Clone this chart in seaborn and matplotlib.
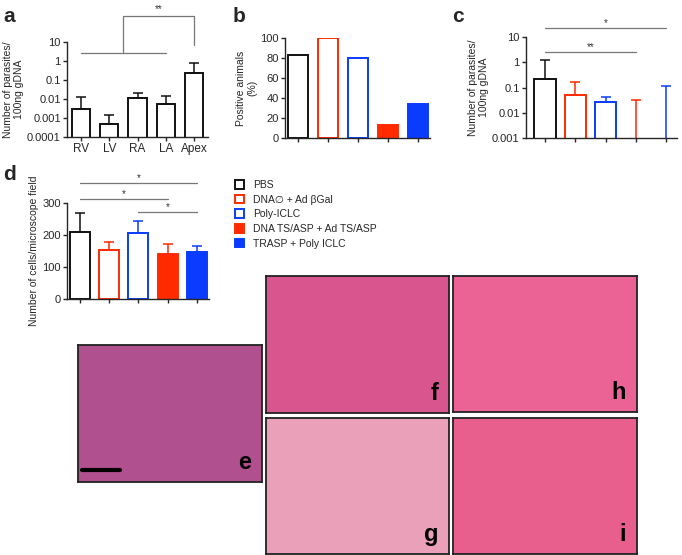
import numpy as np
import pandas as pd
import matplotlib
matplotlib.use("Agg")
import matplotlib.pyplot as plt
import seaborn as sns
from matplotlib.patches import Patch
from matplotlib.ticker import FixedLocator, FuncFormatter, NullLocator

# ---- data ----
sites = ["RV", "LV", "RA", "LA", "Apex"]
sites_mean = [0.003, 0.0005, 0.011, 0.0055, 0.22]
sites_upper = [0.012, 0.0015, 0.02, 0.015, 0.75]

groups = ["PBS", "DNA\u2205 + Ad \u03b2Gal", "Poly-ICLC", "DNA TS/ASP + Ad TS/ASP", "TRASP + Poly ICLC"]
positive_pct = [83, 100, 80, 13, 34]

parasites_mean = [0.22, 0.05, 0.027, 0.0006, 0.0006]
parasites_upper = [1.2, 0.16, 0.042, 0.031, 0.12]

cells_mean = [210, 152, 205, 140, 146]
cells_upper = [270, 178, 245, 173, 165]

edge_cols = ["#111111", "#ff2a00", "#0a3cff", "#ff2a00", "#0a3cff"]
fill_cols = ["white", "white", "white", "#ff2a00", "#0a3cff"]

# histology panels (no data, just placeholders in the H&E tones)
photo_tags = ["e", "f", "h", "g", "i"]
photo_tones = ["#b0508f", "#d9558e", "#ea6394", "#e9a0b8", "#e85f8e"]

sns.set_style("ticks")
plt.rcParams["font.family"] = ["Liberation Sans", "DejaVu Sans"]
plt.rcParams["axes.linewidth"] = 1.0
plt.rcParams["xtick.major.width"] = 1.0
plt.rcParams["ytick.major.width"] = 1.0
plt.rcParams["xtick.major.size"] = 3
plt.rcParams["ytick.major.size"] = 3

W, H = 682, 555
fig = plt.figure(figsize=(W / 100, H / 100), dpi=100)


def box(l, t, r, b):
    return [l / W, 1 - b / H, (r - l) / W, (b - t) / H]


def draw_bars(ax, labels, vals, fills, edges, width):
    df = pd.DataFrame({"x": labels, "y": vals})
    sns.barplot(data=df, x="x", y="y", ax=ax, width=width, color="white", errorbar=None)
    for p, fc, ec in zip(ax.patches, fills, edges):
        p.set_facecolor(fc)
        p.set_edgecolor(ec)
        p.set_linewidth(1.4)


def draw_err(ax, vals, upper, cols):
    for i, (v, u, c) in enumerate(zip(vals, upper, cols)):
        ax.errorbar(i, v, yerr=[[0], [u - v]], color=c, capsize=3.5, elinewidth=1.1,
                    capthick=1.1, fmt="none", zorder=1)


def sig_line(ax, x0, x1, y, star, color="#777777"):
    ax.plot([x0, x1], [y, y], color=color, lw=0.9, clip_on=False)
    ax.text((x0 + x1) / 2, y, star, ha="center", va="bottom", fontsize=7, color="#333333")


def style(ax):
    sns.despine(ax=ax)
    ax.set_xlabel("")
    ax.tick_params(labelsize=8, pad=1.5)


fmt_g = FuncFormatter(lambda v, p: f"{v:g}")

# ---- a ----
ax = fig.add_axes(box(67, 42, 208, 137))
draw_bars(ax, sites, sites_mean, ["white"] * 5, ["#111111"] * 5, 0.64)
draw_err(ax, sites_mean, sites_upper, ["#111111"] * 5)
ax.set_yscale("log")
ax.set_ylim(0.0001, 10)
ax.set_xlim(-0.5, 4.5)
ax.yaxis.set_major_locator(FixedLocator([0.0001, 0.001, 0.01, 0.1, 1, 10]))
ax.yaxis.set_major_formatter(fmt_g)
ax.yaxis.set_minor_locator(NullLocator())
ax.set_ylabel("Number of parasites/\n100ng gDNA", fontsize=7.5, labelpad=2)
style(ax)
ax.tick_params(axis="x", labelsize=8.5)
c = "#777777"
ax.plot([0, 3], [2.6, 2.6], color=c, lw=0.9, clip_on=False)
ax.plot([1.5, 1.5, 4, 4], [2.6, 233, 233, 7], color=c, lw=0.9, clip_on=False)
ax.text(2.75, 300, "**", ha="center", va="bottom", fontsize=7, color="#333333")

# ---- b ----
ax = fig.add_axes(box(285, 38, 430, 138))
draw_bars(ax, groups, positive_pct, fill_cols, edge_cols, 0.68)
ax.set_ylim(0, 100)
ax.set_xlim(-0.43, 4.4)
ax.set_yticks([0, 20, 40, 60, 80, 100])
ax.set_xticklabels([])
ax.set_ylabel("Positive animals\n(%)", fontsize=7.5, labelpad=2)
style(ax)

# ---- c ----
ax = fig.add_axes(box(526, 37, 677, 138))
draw_bars(ax, groups, parasites_mean, fill_cols, edge_cols, 0.7)
draw_err(ax, parasites_mean, parasites_upper, edge_cols)
ax.set_yscale("log")
ax.set_ylim(0.001, 10)
ax.set_xlim(-0.63, 4.36)
ax.yaxis.set_major_locator(FixedLocator([0.001, 0.01, 0.1, 1, 10]))
ax.yaxis.set_major_formatter(fmt_g)
ax.yaxis.set_minor_locator(NullLocator())
ax.set_xticklabels([])
ax.set_ylabel("Number of parasites/\n100ng gDNA", fontsize=7.5, labelpad=2)
style(ax)
sig_line(ax, 0, 4, 22.7, "*")
sig_line(ax, 0, 3, 2.56, "**")

# ---- d ----
ax = fig.add_axes(box(67, 203, 209, 299))
draw_bars(ax, groups, cells_mean, fill_cols, edge_cols, 0.68)
draw_err(ax, cells_mean, cells_upper, edge_cols)
ax.set_ylim(0, 300)
ax.set_xlim(-0.44, 4.41)
ax.set_yticks([0, 100, 200, 300])
ax.set_xticklabels([])
ax.set_ylabel("Number of cells/microscope field", fontsize=7.5, labelpad=2)
style(ax)
sig_line(ax, 0, 4, 362, "*")
sig_line(ax, 0, 3, 312, "*")
sig_line(ax, 2, 4, 272, "*")

handles = [Patch(facecolor=f, edgecolor=e, linewidth=1.4) for f, e in zip(fill_cols, edge_cols)]
fig.legend(handles, groups, loc="upper left", bbox_to_anchor=(235 / W, 1 - 180 / H),
           frameon=False, fontsize=7.5, handlelength=0.9, handleheight=0.9,
           handletextpad=0.8, labelspacing=0.45, borderpad=0, borderaxespad=0)

# ---- panel letters ----
for tag, x, y in [("a", 3, 22), ("b", 233, 22), ("c", 452, 22), ("d", 3, 180)]:
    fig.text(x / W, 1 - y / H, tag, fontsize=15, fontweight="bold", va="baseline")

# ---- histology placeholders ----
photo_boxes = [(78, 345, 262, 482), (266, 276, 449, 413), (453, 276, 637, 412),
               (266, 418, 449, 554), (453, 418, 637, 554)]
for tag, tone, (l, t, r, b) in zip(photo_tags, photo_tones, photo_boxes):
    pax = fig.add_axes(box(l, t, r, b))
    pax.set_facecolor(tone)
    pax.set_xticks([])
    pax.set_yticks([])
    for s in pax.spines.values():
        s.set_visible(True)
        s.set_linewidth(1.3)
        s.set_color("#222222")
    pax.text(0.94, 0.06, tag, transform=pax.transAxes, ha="right", va="bottom",
             fontsize=17, fontweight="bold", color="black")
    if tag == "e":
        pax.plot([0.02, 0.23], [0.09, 0.09], transform=pax.transAxes, color="black", lw=3)

fig.savefig("out.png", dpi=100)
